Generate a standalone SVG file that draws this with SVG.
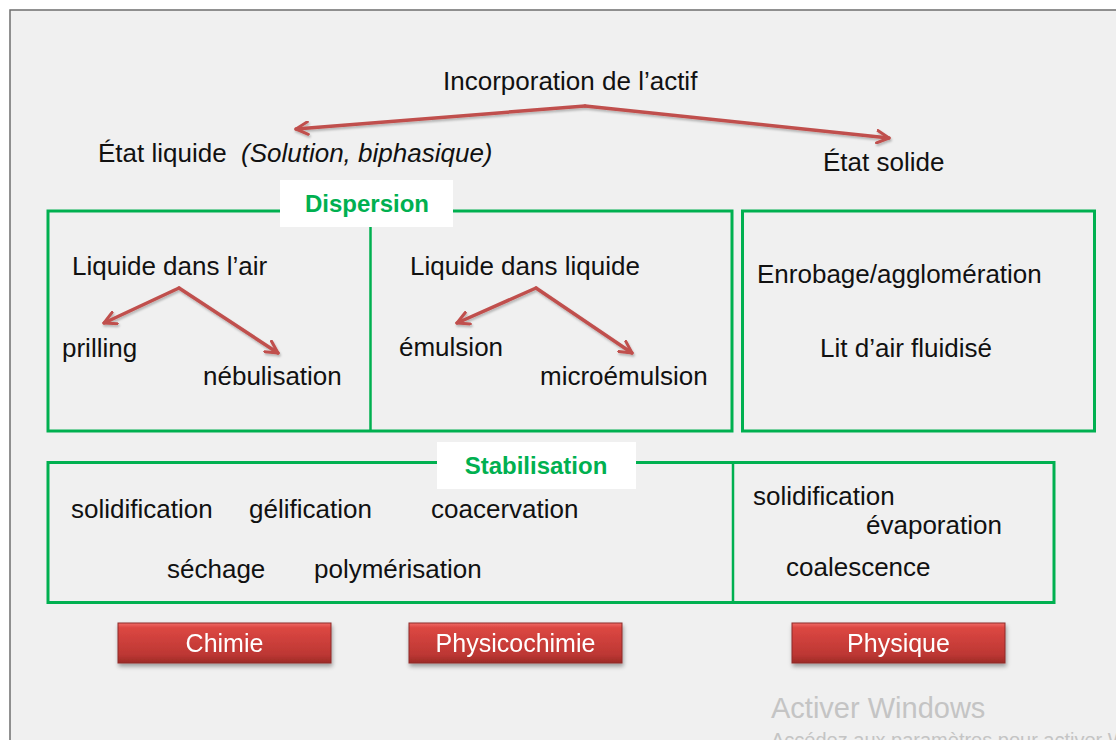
<svg xmlns="http://www.w3.org/2000/svg" width="1116" height="740" viewBox="0 0 1116 740">
<defs>
<style>
.t{font-family:"Liberation Sans",Arial,sans-serif;font-size:26px;fill:#111}
.ti{font-style:italic}
.g{font-family:"Liberation Sans",Arial,sans-serif;font-size:24px;font-weight:bold;fill:#00b050}
.box{fill:none;stroke:#00b050;stroke-width:3}
.lbl{fill:#ffffff}
.arr{fill:none;stroke:#c0504d;stroke-width:3.5;stroke-linecap:round;marker-end:url(#ah)}
.btn{fill:url(#rg);stroke:#8e2b28;stroke-width:1}
.bt{font-family:"Liberation Sans",Arial,sans-serif;font-size:25px;fill:#ffffff;text-anchor:middle}
.wm{font-family:"Liberation Sans",Arial,sans-serif;fill:#c4c4c4}
</style>
<marker id="ah" viewBox="0 0 12 12" refX="10.5" refY="6" markerWidth="15" markerHeight="15" orient="auto" markerUnits="userSpaceOnUse">
<path d="M1,1 L10.5,6 L1,11" fill="none" stroke="#c0504d" stroke-width="2.4" stroke-linecap="round" stroke-linejoin="round"/>
</marker>
<linearGradient id="rg" x1="0" y1="0" x2="0" y2="1">
<stop offset="0" stop-color="#f06b66"/>
<stop offset="0.12" stop-color="#dc4742"/>
<stop offset="0.8" stop-color="#bc3733"/>
<stop offset="1" stop-color="#9c2a27"/>
</linearGradient>
<filter id="sh" x="-10%" y="-20%" width="120%" height="150%">
<feDropShadow dx="1" dy="3" stdDeviation="2" flood-color="#000" flood-opacity="0.35"/>
</filter>
<filter id="ash" x="-10%" y="-30%" width="120%" height="160%">
<feDropShadow dx="1" dy="2" stdDeviation="1.2" flood-color="#000" flood-opacity="0.25"/>
</filter>
</defs>

<rect x="0" y="0" width="1116" height="740" fill="#ffffff"/>
<rect x="10" y="10" width="1106" height="730" fill="#f0f0f0"/>
<path d="M10,740 L10,10 L1116,10" fill="none" stroke="#6e6e6e" stroke-width="1.5"/>

<g id="connectors" filter="url(#ash)">
<path class="arr" d="M585,106 L296,129"/>
<path class="arr" d="M585,106 L889,138"/>
<path class="arr" d="M179,288 L104,323"/>
<path class="arr" d="M179,288 L278,353"/>
<path class="arr" d="M536,288 L457,323"/>
<path class="arr" d="M536,288 L632,353"/>
</g>

<g id="top">
<text class="t" x="443" y="90">Incorporation de l’actif</text>
</g>
<g id="etat-liquide">
<text class="t" x="98" y="162">État liquide <tspan class="ti" x="241">(Solution, biphasique)</tspan></text>
</g>
<g id="etat-solide">
<text class="t" x="823" y="171">État solide</text>
</g>

<g id="dispersion">
<rect class="box" x="48" y="211" width="684" height="220"/>
<line x1="370.5" y1="226" x2="370.5" y2="431" stroke="#00b050" stroke-width="2.5"/>
<rect class="lbl" x="280" y="180" width="173" height="47"/>
<text class="g" x="367" y="212" text-anchor="middle">Dispersion</text>
</g>

<g id="liquide-air">
<text class="t" x="72" y="275">Liquide dans l’air</text>
<text class="t" x="62" y="357">prilling</text>
<text class="t" x="203" y="385">nébulisation</text>
</g>

<g id="liquide-liquide">
<text class="t" x="410" y="275">Liquide dans liquide</text>
<text class="t" x="399" y="356">émulsion</text>
<text class="t" x="540" y="385">microémulsion</text>
</g>

<g id="solide">
<rect class="box" x="742.5" y="211" width="352" height="220"/>
<text class="t" x="757" y="283">Enrobage/agglomération</text>
<text class="t" x="820" y="357">Lit d’air fluidisé</text>
</g>

<g id="stabilisation">
<rect class="box" x="48" y="462.5" width="1006" height="140"/>
<line x1="733" y1="462.5" x2="733" y2="602.5" stroke="#00b050" stroke-width="2.5"/>
<rect class="lbl" x="437" y="442" width="199" height="47"/>
<text class="g" x="536" y="474" text-anchor="middle">Stabilisation</text>
<text class="t" x="71" y="518">solidification</text>
<text class="t" x="249" y="518">gélification</text>
<text class="t" x="431" y="518">coacervation</text>
<text class="t" x="167" y="578">séchage</text>
<text class="t" x="314" y="578">polymérisation</text>
<text class="t" x="753" y="505">solidification</text>
<text class="t" x="866" y="534">évaporation</text>
<text class="t" x="786" y="576">coalescence</text>
</g>

<g id="btn-chimie" filter="url(#sh)">
<rect class="btn" x="118" y="623" width="213" height="40"/>
<text class="bt" x="224.5" y="652">Chimie</text>
</g>
<g id="btn-physicochimie" filter="url(#sh)">
<rect class="btn" x="409" y="623" width="213" height="40"/>
<text class="bt" x="515.5" y="652">Physicochimie</text>
</g>
<g id="btn-physique" filter="url(#sh)">
<rect class="btn" x="792" y="623" width="213" height="40"/>
<text class="bt" x="898.5" y="652">Physique</text>
</g>

<g id="watermark">
<text class="wm" x="771" y="718" font-size="29">Activer Windows</text>
<text class="wm" x="771" y="747" font-size="20">Accédez aux paramètres pour activer Windows.</text>
</g>
</svg>
